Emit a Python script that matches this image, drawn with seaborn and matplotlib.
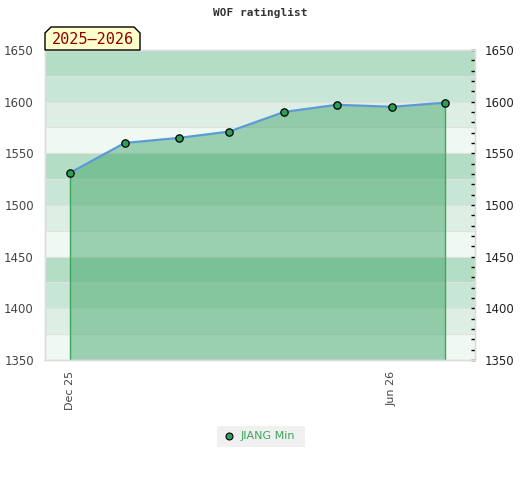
import matplotlib
matplotlib.use("Agg")
import matplotlib.pyplot as plt
import matplotlib.dates as mdates
import seaborn as sns
import pandas as pd
import numpy as np
from matplotlib.patches import Polygon

dates = ["2025-12-01", "2026-01-01", "2026-02-01", "2026-03-01",
         "2026-04-01", "2026-05-01", "2026-06-01", "2026-07-01"]
ratings = [1531, 1560, 1565, 1571, 1590, 1597, 1595, 1599]
player = "JIANG Min"
season = "2025\u20132026"
title = "WOF ratinglist"
tick_dates = ["2025-12-01", "2026-06-01"]
tick_labels = ["Dec 25", "Jun 26"]

sns.set_style("white")
plt.rcParams['font.family'] = ['DejaVu Sans']

df = pd.DataFrame({"date": pd.to_datetime(dates), "rating": ratings})

fig = plt.figure(figsize=(5.2, 4.8), dpi=100)
ax = fig.add_axes([45/520, 120/480, 430/520, 310/480])

ymin, ymax = 1350, 1650
band_cols = ["#b3ddc4", "#c8e6d5", "#ddefe4", "#f0f8f3"]
for i, top in enumerate(range(ymax, ymin, -25)):
    ax.axhspan(top - 25, top, color=band_cols[i % 4], lw=0, zorder=0)
    ax.axhline(top, color="#e0e0e0", lw=0.8, zorder=0.5)

ax.fill_between(df["date"], df["rating"], ymin, color="#3ea466", alpha=0.48, lw=0, zorder=1)
ax.vlines([df["date"].iloc[0], df["date"].iloc[-1]], ymin,
          [df["rating"].iloc[0], df["rating"].iloc[-1]], color="#3aa85a", lw=1, zorder=2)

sns.lineplot(data=df, x="date", y="rating", ax=ax, color="#5b9bd5", lw=1.6, zorder=3, legend=False)
sns.scatterplot(data=df, x="date", y="rating", ax=ax, color="#2e9e5b", edgecolor="black",
                linewidth=0.9, s=28, zorder=4, legend=False)

ax.set_ylim(ymin, ymax)
ax.set_xlim(pd.Timestamp("2025-11-17"), pd.Timestamp("2026-07-18"))
ax.set_xlabel("")
ax.set_ylabel("")

ax.set_xticks(pd.to_datetime(tick_dates))
ax.set_xticklabels(tick_labels, rotation=90, fontsize=8, color="#444444")
ax.tick_params(axis="x", length=0, pad=8)

yt = np.arange(ymin, ymax + 1, 50)
ax.set_yticks(yt)
ax.set_yticklabels([str(v) for v in yt], fontsize=8.5, color="#444444")
ax.tick_params(axis="y", length=0, pad=8)

ax2 = ax.twinx()
ax2.set_ylim(ymin, ymax)
ax2.set_yticks(yt)
ax2.set_yticklabels([str(v) for v in yt], fontsize=8.5, color="#222222")
ax2.set_yticks(np.arange(ymin, ymax + 1, 10), minor=True)
ax2.tick_params(axis="y", which="major", length=3, width=1, color="black", pad=7, direction="in")
ax2.tick_params(axis="y", which="minor", length=3, width=1, color="black", direction="in")
ax2.yaxis.set_tick_params(which="both", right=True)

for a in (ax, ax2):
    for s in a.spines.values():
        s.set_color("#dddddd")
        s.set_linewidth(1)

fig.text(0.5, 1 - 13/480, title, ha="center", va="center", fontsize=8,
         family="DejaVu Sans Mono", weight="bold", color="#333333")

# season label box with clipped top corners
bx0, bx1, by0, by1 = 45, 140, 480 - 50, 480 - 27
c = 6
pts = [(bx0, by0), (bx0, by1 - c), (bx0 + c, by1), (bx1 - c, by1), (bx1, by1 - c), (bx1, by0)]
poly = Polygon([(px / 520, py / 480) for px, py in pts], closed=True,
               transform=fig.transFigure, facecolor="#ffffcc", edgecolor="black", lw=1)
fig.add_artist(poly)
fig.text((bx0 + bx1) / 2 / 520, (by0 + by1) / 2 / 480 - 0.002, season, ha="center", va="center",
         fontsize=11, family="DejaVu Sans Mono", color="#8b0000")

# legend
lx0, lx1, ly0, ly1 = 217, 305, 480 - 447, 480 - 426
fig.add_artist(plt.Rectangle((lx0 / 520, ly0 / 480), (lx1 - lx0) / 520, (ly1 - ly0) / 480,
                             transform=fig.transFigure, facecolor="#f0f0f0", edgecolor="none"))
fig.add_artist(plt.Line2D([229 / 520], [(480 - 436) / 480], marker="o", markersize=5,
                          markerfacecolor="#2e9e5b", markeredgecolor="black", markeredgewidth=0.8,
                          transform=fig.transFigure))
fig.text(241 / 520, (480 - 436) / 480, player, ha="left", va="center", fontsize=8,
         color="#3aa85a")

fig.savefig("out.png", dpi=100)
